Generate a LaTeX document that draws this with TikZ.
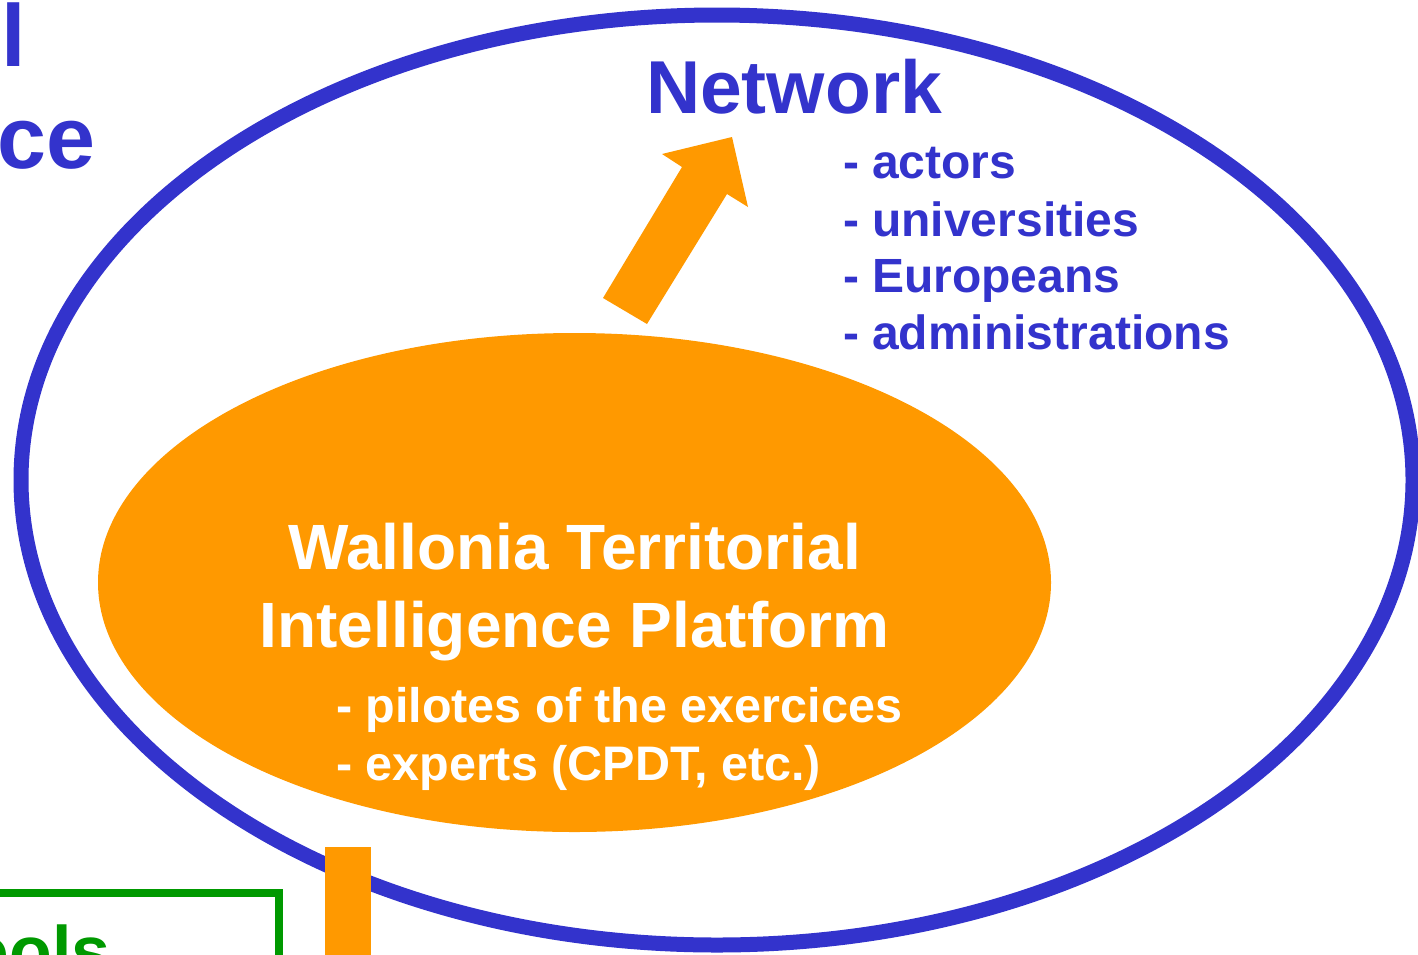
\documentclass[tikz,border=0pt]{standalone}
\usepackage{fontspec}
\setmainfont{Liberation Sans}
\definecolor{wblue}{HTML}{3333CC}
\definecolor{worange}{HTML}{FF9900}
\definecolor{wgreen}{HTML}{009900}
\begin{document}
\begin{tikzpicture}[x=1pt,y=-1pt,
  every node/.style={inner sep=0pt, outer sep=0pt},
  listtxt/.style={text=wblue, font=\bfseries\fontsize{48}{57}\selectfont, anchor=base west},
  whitetxt/.style={text=white, font=\bfseries\fontsize{48.5}{57}\selectfont, anchor=base west},
  titletxt/.style={text=white, font=\bfseries\fontsize{64}{77}\selectfont, anchor=base},
  bigblue/.style={text=wblue, font=\bfseries\fontsize{88}{102}\selectfont, anchor=base east}]
\useasboundingbox (0,0) rectangle (1418,954);
\clip (0,0) rectangle (1418,954);
% outer network ellipse
\draw[wblue, line width=15pt] (717,480) ellipse [x radius=696, y radius=465];
% platform ellipse
\fill[worange] (574.5,582.5) ellipse [x radius=476.5, y radius=249.5];
% green box (cut off)
\draw[wgreen, line width=8pt] (-20,893) -- (279,893) -- (279,1000);
% orange bar at bottom (cut off)
\fill[worange] (325,847) rectangle (371,1000);
% block arrow
\fill[worange] (603,298) -- (647,324) -- (727,194) -- (748,207) -- (732,137) -- (662,154) -- (682,167) -- cycle;
% texts
\node[bigblue] (tl1) at (26,66) {l};
\node[bigblue] (tl2) at (95,168) {ce};
\node[text=wblue, font=\bfseries\fontsize{75}{88}\selectfont, anchor=base west] (net) at (646,113) {Network};
\node[listtxt] (n1) at (843,178) {- actors};
\node[listtxt] (n2) at (843,236) {- universities};
\node[listtxt] (n3) at (843,292) {- Europeans};
\node[listtxt] (n4) at (843,349) {- administrations};
\node[titletxt] (t1) at (574.5,569) {Wallonia Territorial};
\node[titletxt] (t2) at (574.5,647) {Intelligence Platform};
\node[whitetxt] (p1) at (336,722) {- pilotes of the exercices};
\node[whitetxt] (p2) at (336,780) {- experts (CPDT, etc.)};
\node[text=wgreen, font=\bfseries\fontsize{70}{84}\selectfont, anchor=base west] (tools) at (-33,975) {ools};
\end{tikzpicture}
\end{document}
